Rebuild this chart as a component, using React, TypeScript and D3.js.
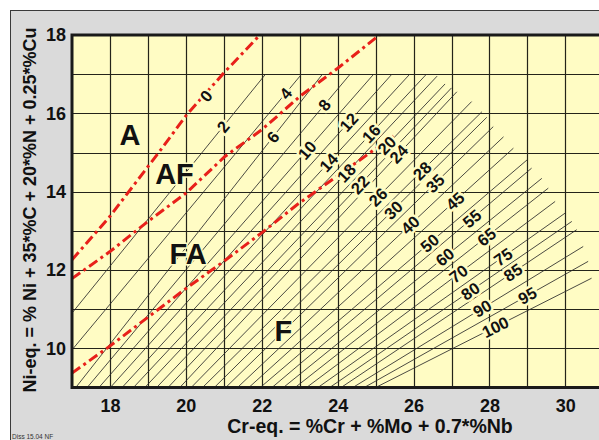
import React, { useRef, useEffect } from 'react';
import * as d3 from 'd3';

const W = 599;
const H = 440;

// axis ticks
const crTicks = [18, 20, 22, 24, 26, 28, 30];
const niTicks = [10, 12, 14, 16, 18];

// iso ferrite number lines, ends as [Cr-eq, Ni-eq]
const fnValues = [0, 2, 4, 6, 8, 10, 12, 14, 16, 18, 20, 22, 24, 26, 28, 30, 35, 40, 45, 50, 55, 60, 65, 70, 75, 80, 85, 90, 95, 100];
const fnLow = [
  [17, 12.26], [17, 10.9], [17, 9.96], [17.1, 9], [17.4, 9], [17.71, 9], [18.01, 9], [18.32, 9], [18.62, 9], [18.92, 9],
  [19.23, 9], [19.53, 9], [19.84, 9], [20.14, 9], [20.44, 9], [20.75, 9], [21.05, 9], [21.36, 9], [21.66, 9], [21.96, 9],
  [22.27, 9], [22.57, 9], [22.88, 9], [23.18, 9], [23.48, 9], [23.79, 9], [24.09, 9], [24.4, 9], [24.7, 9], [25.0, 9],
];
const fnHigh = [
  [21, 17], [22.1, 17], [23.05, 17], [23.6, 17], [24.33, 17], [24.95, 17], [25.43, 17], [25.9, 17], [26.34, 17], [26.62, 16.95],
  [26.83, 16.75], [27.0, 16.65], [27.14, 16.55], [27.53, 16.3], [27.8, 16.04], [27.93, 15.9], [28.1, 15.66], [28.37, 15.4], [28.63, 15.11], [28.99, 14.81],
  [29.11, 14.6], [29.38, 14.34], [29.55, 14.09], [29.73, 13.75], [29.99, 13.45], [30.17, 13.24], [30.3, 13.03], [30.47, 12.6], [30.6, 12.22], [30.69, 11.79],
];
// where each number is written
const fnLabelAt = [
  [20.5, 16.47], [21.03, 15.62], [22.67, 16.47], [22.3, 15.39], [23.65, 16.21], [23.17, 15.08], [24.3, 15.77], [23.8, 14.71], [24.9, 15.47], [24.26, 14.45],
  [25.35, 15.13], [24.68, 14.09], [25.82, 14.77], [25.14, 13.79], [26.2, 14.56], [25.51, 13.49], [26.61, 14.17], [25.95, 13.11], [27.14, 13.71], [26.35, 12.77],
  [27.57, 13.28], [26.78, 12.39], [27.88, 12.9], [27.14, 11.96], [28.32, 12.39], [27.44, 11.54], [28.63, 11.92], [27.75, 11.11], [28.94, 11.45], [28.1, 10.65],
];

// phase boundaries
const boundaryA_AF = [[17, 12.26], [18, 13.37], [19.27, 14.98], [20.02, 15.96], [20.99, 17.02], [21.95, 18]];
const boundaryAF_FA = [[17, 11.78], [18, 12.47], [19, 13.24], [20, 13.96], [21.03, 14.9], [22, 15.58], [23, 16.43], [24, 17.15], [25.1, 18]];
const boundaryFA_F = [[17, 9.37], [17.96, 10.03], [19.01, 10.8], [20.02, 11.54], [21, 12.22], [22.04, 12.98], [22.92, 13.66], [25.47, 15.42]];

// region names
const regions = ['A', 'AF', 'FA', 'F'];
const regionAt = [[18.53, 15.45], [19.7, 14.45], [20.06, 12.43], [22.57, 10.45]];

const FONT = 'Liberation Sans, Arial, Helvetica, sans-serif';
const PLOT_BG = '#fffcc4';

function App() {
  const ref = useRef(null);

  useEffect(() => {
    const svg = d3.select(ref.current);
    svg.selectAll('*').remove();

    const x = d3.scaleLinear().domain([17, 31.5]).range([72, 622.3]);
    const y = d3.scaleLinear().domain([9, 18]).range([387.5, 35]);

    // grey panel
    svg.append('rect')
      .attr('x', 10.5).attr('y', 10.5)
      .attr('width', W).attr('height', H)
      .attr('fill', '#dadada')
      .attr('stroke', '#3a3a3a');

    svg.append('defs').append('clipPath').attr('id', 'plotclip')
      .append('rect')
      .attr('x', x(17)).attr('y', y(18))
      .attr('width', x(31.5) - x(17)).attr('height', y(9) - y(18));

    svg.append('rect')
      .attr('x', x(17)).attr('y', y(18))
      .attr('width', x(31.5) - x(17)).attr('height', y(9) - y(18))
      .attr('fill', PLOT_BG);

    const plot = svg.append('g').attr('clip-path', 'url(#plotclip)');

    // grid
    plot.selectAll('line.vgrid')
      .data(d3.range(18, 32)).enter()
      .append('line')
      .attr('class', 'vgrid')
      .attr('x1', d => Math.round(x(d)) + 0.5).attr('x2', d => Math.round(x(d)) + 0.5)
      .attr('y1', y(18)).attr('y2', y(9))
      .attr('stroke', '#24241a').attr('stroke-width', 1.2);

    plot.selectAll('line.hgrid')
      .data(d3.range(10, 18)).enter()
      .append('line')
      .attr('class', 'hgrid')
      .attr('x1', x(17)).attr('x2', x(31.5))
      .attr('y1', d => Math.round(y(d)) + 0.5).attr('y2', d => Math.round(y(d)) + 0.5)
      .attr('stroke', '#24241a').attr('stroke-width', 1.2);

    // ferrite number lines (FN 0 runs under the A/AF boundary)
    const fnIdx = d3.range(fnValues.length).filter(i => fnValues[i] > 0);
    plot.selectAll('line.fn')
      .data(fnIdx).enter()
      .append('line')
      .attr('class', 'fn')
      .attr('x1', i => x(fnLow[i][0])).attr('y1', i => y(fnLow[i][1]))
      .attr('x2', i => x(fnHigh[i][0])).attr('y2', i => y(fnHigh[i][1]))
      .attr('stroke', '#2a2a2a').attr('stroke-width', 0.85);

    // phase boundaries
    const line = d3.line().x(d => x(d[0])).y(d => y(d[1]));
    [boundaryA_AF, boundaryAF_FA, boundaryFA_F].forEach(b => {
      plot.append('path')
        .attr('d', line(b))
        .attr('fill', 'none')
        .attr('stroke', '#e8201a')
        .attr('stroke-width', 3)
        .attr('stroke-dasharray', '10,4,3,4');
    });

    // FN labels, placed on their line nearest the read spot
    fnValues.forEach((v, i) => {
      const x1 = x(fnLow[i][0]), y1 = y(fnLow[i][1]);
      const x2 = x(fnHigh[i][0]), y2 = y(fnHigh[i][1]);
      const px = x(fnLabelAt[i][0]), py = y(fnLabelAt[i][1]);
      const dx = x2 - x1, dy = y2 - y1;
      const t = ((px - x1) * dx + (py - y1) * dy) / (dx * dx + dy * dy);
      const lx = x1 + t * dx, ly = y1 + t * dy;
      const ang = Math.atan2(dy, dx) * 180 / Math.PI;
      plot.append('text')
        .attr('transform', `translate(${lx},${ly}) rotate(${ang})`)
        .attr('text-anchor', 'middle')
        .attr('dy', '0.36em')
        .attr('font-family', FONT)
        .attr('font-weight', 'bold')
        .attr('font-size', 16.5)
        .attr('fill', '#111')
        .attr('stroke', PLOT_BG)
        .attr('stroke-width', 5)
        .attr('stroke-linejoin', 'round')
        .attr('paint-order', 'stroke')
        .text(v);
    });

    // region names
    plot.selectAll('text.region')
      .data(regions).enter()
      .append('text')
      .attr('class', 'region')
      .attr('x', (d, i) => x(regionAt[i][0]))
      .attr('y', (d, i) => y(regionAt[i][1]))
      .attr('dy', '0.36em')
      .attr('text-anchor', 'middle')
      .attr('font-family', FONT)
      .attr('font-weight', 'bold')
      .attr('font-size', 29)
      .attr('fill', '#111')
      .attr('stroke', PLOT_BG)
      .attr('stroke-width', 3)
      .attr('paint-order', 'stroke')
      .text(d => d);

    // plot frame
    svg.append('path')
      .attr('d', `M${x(31.5)},${y(18)} H${x(17)} V${y(9)} H${x(31.5)}`)
      .attr('fill', 'none')
      .attr('stroke', '#1a1a1a')
      .attr('stroke-width', 3);

    // axes
    const xAxis = d3.axisBottom(x).tickValues(crTicks).tickSize(0).tickPadding(12).tickFormat(d3.format('d'));
    const gx = svg.append('g').attr('transform', `translate(0,${y(9)})`).call(xAxis);
    gx.select('.domain').remove();
    gx.selectAll('text')
      .attr('font-family', FONT).attr('font-weight', 'bold').attr('font-size', 18).attr('fill', '#111');

    const yAxis = d3.axisLeft(y).tickValues(niTicks).tickSize(0).tickPadding(6).tickFormat(d3.format('d'));
    const gy = svg.append('g').attr('transform', `translate(${x(17)},0)`).call(yAxis);
    gy.select('.domain').remove();
    gy.selectAll('text')
      .attr('font-family', FONT).attr('font-weight', 'bold').attr('font-size', 18).attr('fill', '#111');

    // axis titles
    svg.append('text')
      .attr('x', 370).attr('y', 433)
      .attr('text-anchor', 'middle')
      .attr('font-family', FONT).attr('font-weight', 'bold').attr('font-size', 19.5)
      .attr('fill', '#111')
      .text('Cr-eq. = %Cr + %Mo + 0.7*%Nb');

    svg.append('text')
      .attr('transform', 'translate(35.5,210) rotate(-90)')
      .attr('text-anchor', 'middle')
      .attr('font-family', FONT).attr('font-weight', 'bold').attr('font-size', 18)
      .attr('fill', '#111')
      .text('Ni-eq. = % Ni + 35*%C + 20*%N + 0.25*%Cu');

    svg.append('text')
      .attr('x', 12).attr('y', 439)
      .attr('font-family', FONT).attr('font-size', 6.5)
      .attr('fill', '#333')
      .text('Diss 15.04 NF');
  }, []);

  return (
    <svg ref={ref} width={W} height={H} style={{ position: 'absolute', left: 0, top: 0 }} />
  );
}

export default App;
